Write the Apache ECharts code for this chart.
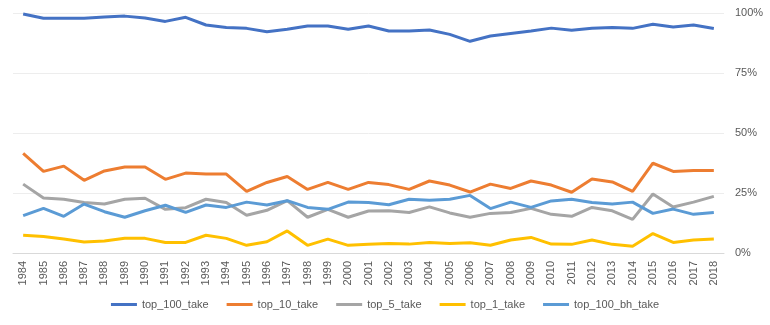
<!DOCTYPE html>
<html><head><meta charset="utf-8">
<script src="https://cdn.jsdelivr.net/npm/echarts@6/dist/echarts.min.js"></script>
<style>html,body{margin:0;padding:0;background:#fff}#c{width:770px;height:325px}</style>
</head><body><div id="c"></div>
<script>
const years = ['1984','1985','1986','1987','1988','1989','1990','1991','1992','1993','1994','1995','1996','1997','1998','1999','2000','2001','2002','2003','2004','2005','2006','2007','2008','2009','2010','2011','2012','2013','2014','2015','2016','2017','2018'];
const top_100_take = [99.6,97.8,97.8,97.8,98.3,98.7,97.9,96.5,98.2,95.0,94.0,93.6,92.2,93.2,94.6,94.6,93.2,94.6,92.5,92.5,92.9,91.1,88.2,90.4,91.5,92.5,93.7,92.8,93.6,94.0,93.6,95.3,94.2,95.0,93.5];
const top_10_take = [41.5,34.0,36.2,30.3,34.2,35.8,35.8,30.7,33.3,32.9,32.9,25.7,29.4,31.9,26.5,29.4,26.5,29.4,28.5,26.5,30.0,28.3,25.4,28.7,26.9,30.0,28.3,25.3,30.8,29.6,25.7,37.4,34.0,34.4,34.4];
const top_5_take = [28.7,22.9,22.4,21.0,20.4,22.4,22.8,18.2,18.9,22.4,21.0,15.7,17.8,21.8,14.9,18.2,14.9,17.5,17.6,16.9,19.2,16.7,14.9,16.5,16.9,18.6,16.1,15.3,19.0,17.6,14.0,24.6,19.2,21.2,23.6];
const top_1_take = [7.4,6.9,5.8,4.6,5.0,6.1,6.1,4.4,4.4,7.4,6.1,3.2,4.7,9.2,3.2,5.8,3.2,3.6,4.0,3.7,4.4,4.0,4.3,3.2,5.4,6.5,3.7,3.6,5.4,3.6,2.8,8.1,4.4,5.4,5.8];
const top_100_bh_take = [15.6,18.6,15.3,20.4,17.2,14.9,17.6,19.9,16.9,20.0,19.0,21.2,20.0,21.8,19.0,18.2,21.2,21.0,20.1,22.4,22.0,22.4,24.0,18.5,21.2,19.0,21.7,22.4,21.0,20.4,21.2,16.5,18.3,16.1,16.9];
const seriesNames = ['top_100_take','top_10_take','top_5_take','top_1_take','top_100_bh_take'];
const seriesData = [top_100_take, top_10_take, top_5_take, top_1_take, top_100_bh_take];
const colors = ['#4472C4','#ED7D31','#A5A5A5','#FFC000','#5B9BD5'];
const font = "'Liberation Sans',Arial,sans-serif";

const chart = echarts.init(document.getElementById('c'), null, {renderer:'canvas'});
chart.setOption({
  animation:false,
  color: colors,
  grid:{left:13, right:46, top:13, bottom:72, containLabel:false},
  legend:{
    top:294, left:'center', icon:'rect', itemWidth:26, itemHeight:3, itemGap:18,
    textStyle:{color:'#595959', fontSize:11, fontFamily:font},
    data: seriesNames
  },
  xAxis:{
    type:'category', data:years, boundaryGap:true,
    axisLine:{lineStyle:{color:'#D9D9D9'}},
    axisTick:{show:false},
    axisLabel:{rotate:90, interval:0, color:'#595959', fontSize:11, fontFamily:font, margin:8}
  },
  yAxis:{
    type:'value', position:'right', min:0, max:100, interval:25,
    axisLine:{show:false}, axisTick:{show:false},
    splitLine:{lineStyle:{color:'#EDEDED'}},
    axisLabel:{formatter:'{value}%', color:'#595959', fontSize:11, fontFamily:font, margin:11}
  },
  series: seriesNames.map((n,i)=>({
    name:n, type:'line', data:seriesData[i], showSymbol:false, symbol:'none',
    lineStyle:{width:3, color:colors[i]}, itemStyle:{color:colors[i]}
  }))
});
</script></body></html>
